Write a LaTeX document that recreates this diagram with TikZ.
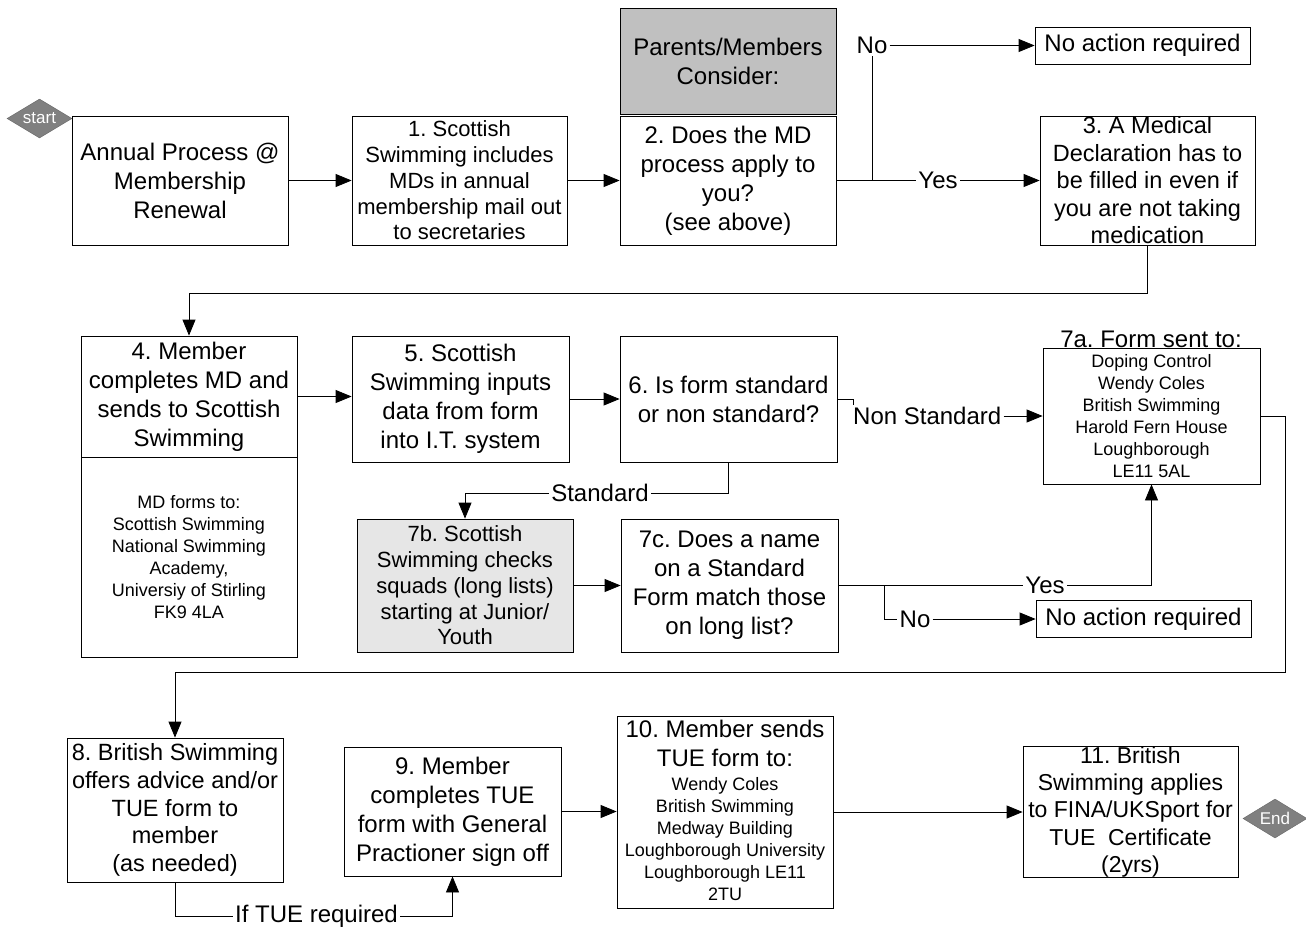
\documentclass[tikz,border=0pt]{standalone}
\usepackage{fontspec}
\setmainfont{Liberation Sans}
\frenchspacing
\usetikzlibrary{arrows.meta,shapes.geometric,calc}
\newcommand\fA{\fontsize{24}{29}\selectfont}
\newcommand\fB{\fontsize{22}{25.7}\selectfont}
\newcommand\fD{\fontsize{23.5}{27.5}\selectfont}
\newcommand\fS{\fontsize{18}{21.9}\selectfont}
\newcommand\fE{\fontsize{23}{27.2}\selectfont}
\newcommand\fH{\fontsize{23.5}{27.7}\selectfont}
\definecolor{dgray}{HTML}{808080}
\definecolor{mgray}{HTML}{C0C0C0}
\definecolor{lgray}{HTML}{E6E6E6}
\pgfdeclarelayer{bg}
\pgfsetlayers{bg,main}
\tikzset{
  box/.style={draw=black, line width=0.8pt, fill=white, inner sep=0pt, align=center},
  term/.style={diamond, draw=dgray!80!black, fill=dgray, text=white, inner sep=0pt, font=\fontsize{17}{20}\selectfont, aspect=1.65},
  lbl/.style={fill=white, inner sep=2pt, font=\fA},
  conn/.style={line width=0.8pt},
  arr/.style={line width=0.8pt, -{Triangle[length=16pt,width=13pt]}},
}
\begin{document}
\begin{tikzpicture}[x=1pt,y=-1pt]
\useasboundingbox (0,0) rectangle (1306,929);
% nodes
\node[term, minimum width=65pt, minimum height=39pt] (start) at (39.5,118.5) {start};
\node[box, minimum width=216pt, minimum height=129pt, font=\fA] (A) at (180,180.5) {Annual Process @\\Membership\\Renewal};
\node[box, minimum width=215pt, minimum height=129pt, font=\fB] (B) at (459.5,180.5) {1. Scottish\\Swimming includes\\MDs in annual\\membership mail out\\to secretaries};
\node[box, fill=mgray, minimum width=216pt, minimum height=106pt, font=\fA] (P) at (728,61) {Parents/Members\\Consider:};
\node[box, minimum width=216pt, minimum height=129pt, font=\fA] (C) at (728,180.5) {2. Does the MD\\process apply to\\you?\\(see above)};
\node[box, minimum width=215pt, minimum height=37pt, font=\fA] (NA1) at (1142.5,45.5) {No action required};
\node[box, minimum width=215pt, minimum height=129pt, font=\fD] (D) at (1147.5,180.5) {3. A Medical\\Declaration has to\\be filled in even if\\you are not taking\\medication};
\node[box, minimum width=216pt, minimum height=121pt, font=\fA] (E) at (189,396.5) {4. Member\\completes MD and\\sends to Scottish\\Swimming};
\node[box, minimum width=216pt, minimum height=200pt, font=\fS] (E2) at (189,557) {MD forms to:\\Scottish Swimming\\National Swimming\\Academy,\\Universiy of Stirling\\FK9 4LA};
\node[box, minimum width=217pt, minimum height=126pt, font=\fA] (F) at (460.5,399) {5. Scottish\\Swimming inputs\\data from form\\into I.T. system};
\node[box, minimum width=217pt, minimum height=126pt, font=\fA] (G) at (728.5,399) {6. Is form standard\\or non standard?};
\node[box, minimum width=217pt, minimum height=136pt, font=\fS] (T7a) at (1151.5,416) {Doping Control\\Wendy Coles\\British Swimming\\Harold Fern House\\Loughborough\\LE11 5AL};
\node[font=\fA, inner sep=0pt] (T7atitle) at (1151,339) {7a. Form sent to:};
\node[box, fill=lgray, minimum width=216pt, minimum height=133pt, font=\fB] (b7) at (465,585.5) {7b. Scottish\\Swimming checks\\squads (long lists)\\starting at Junior/\\Youth};
\node[box, minimum width=217pt, minimum height=133pt, font=\fA] (c7) at (729.5,585.5) {7c. Does a name\\on a Standard\\Form match those\\on long list?};
\node[box, minimum width=215pt, minimum height=37pt, font=\fA] (NA2) at (1143.5,619) {No action required};
\node[box, minimum width=216pt, minimum height=144pt, font=\fH] (n8) at (175,810) {8. British Swimming\\offers advice and/or\\TUE form to\\member\\(as needed)};
\node[box, minimum width=217pt, minimum height=129pt, font=\fA] (n9) at (452.5,811.5) {9. Member\\completes TUE\\form with General\\Practioner sign off};
\node[box, minimum width=216pt, minimum height=192pt, font=\fS] (n10) at (725,812) {{\fA\begin{tabular}{@{}c@{}}10. Member sends\\TUE form to:\end{tabular}}\\[-1pt]{\fS\begin{tabular}{@{}c@{}}Wendy Coles\\British Swimming\\Medway Building\\Loughborough University\\Loughborough LE11\\2TU\end{tabular}}};
\node[box, minimum width=215pt, minimum height=130pt, font=\fE] (n11) at (1130.5,812) {11. British\\Swimming applies\\to FINA/UKSport for\\TUE\ \ Certificate\\(2yrs)};
\node[term, minimum width=64pt, minimum height=39pt] (end) at (1275,818.5) {End};
% labels
\node[lbl] (yes1) at (938,180.5) {Yes};
\node[lbl] (no1) at (872,45.5) {No};
\node[lbl, anchor=west] (ns) at (851,416) {Non Standard};
\node[lbl] (std) at (600,493) {Standard};
\node[lbl] (yes2) at (1045,585.5) {Yes};
\node[lbl] (no2) at (915,619) {No};
\node[lbl] (tue) at (316.5,916) {If TUE required};
\coordinate (br1) at (872,180.5);
\coordinate (br2) at (884,585.5);
\coordinate (r8) at (1285,672);
% connectors
\begin{pgfonlayer}{bg}
\draw[arr] (A.east) -- (B.west);
\draw[arr] (B.east) -- (C.west);
\draw[conn] (C.east) -- (yes1.west);
\draw[arr] (yes1.east) -- (D.west);
\draw[conn] (br1) -- (no1.south);
\draw[arr] (no1.east) -- (NA1.west |- no1.east);
\draw[arr] (D.south) -- ++(0,48) -| (E.north);
\draw[arr] (E.east) -- (E.east -| F.west);
\draw[arr] (F.east) -- (G.west);
\draw[conn] (G.east) -- ++(16,0) |- (ns.west);
\draw[arr] (ns.east) -- (T7a.west);
\draw[conn] (G.south) |- (std.east);
\draw[arr] (std.west) -| (b7.north);
\draw[arr] (b7.east) -- (c7.west);
\draw[conn] (c7.east) -- (yes2.west);
\draw[arr] (yes2.east) -| (T7a.south);
\draw[conn] (br2) |- (no2.west);
\draw[arr] (no2.east) -- (NA2.west);
\draw[arr] (T7a.east) -| (r8) -| (n8.north);
\draw[conn] (n8.south) |- (tue.west);
\draw[arr] (tue.east) -| (n9.south);
\draw[arr] (n9.east) -- (n9.east -| n10.west);
\draw[arr] (n10.east) -- (n10.east -| n11.west);
\end{pgfonlayer}
\end{tikzpicture}
\end{document}
